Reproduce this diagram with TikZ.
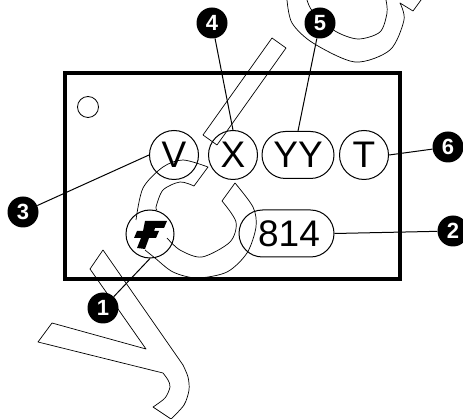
\documentclass[tikz,border=0pt]{standalone}
\usepackage{fontspec}
\setmainfont{Liberation Sans}
\usetikzlibrary{shapes.misc}
\tikzset{
  x=1pt,y=-1pt,
  wm/.style={draw=black,line width=0.7pt,line join=round},
  pin/.style={draw=black,line width=1pt,circle,inner sep=0pt,minimum size=49pt,font=\fontsize{37}{37}\selectfont},
  pill/.style={draw=black,line width=1pt,rounded rectangle,inner sep=0pt,minimum height=47pt,font=\fontsize{37}{37}\selectfont},
  badge/.style={fill=black,circle,inner sep=0pt,minimum size=31pt,text=white,font=\fontsize{22}{22}\selectfont\bfseries},
  lead/.style={draw=black,line width=1pt},
}
\begin{document}
\begin{tikzpicture}
\useasboundingbox (0,0) rectangle (463,419);
\fill[white] (0,0) rectangle (463,419);
% outlined watermark letters
\draw[wm] (272,38) -- (286,48) -- (217,145) -- (203,135) -- cycle;
\draw[wm] (103,250) -- (90,269) -- (146,349) -- (52,323) -- (38,342) -- (163,373)
  -- plot[smooth] coordinates {(163,373) (168,380) (170,387) (165,398) (153,407)}
  -- (171,419) -- plot[smooth] coordinates {(171,419) (184,405) (189,390) (188,377) (183,365)} -- cycle;
\draw[wm] plot[smooth] coordinates {(136,220) (143,188) (163,167) (183,160) (208,167)}
  -- (194,186) -- plot[smooth] coordinates {(194,186) (180,182) (163,190) (156,207) (157,210)};
\draw[wm] plot[smooth] coordinates {(145,250) (155,258) (173,272) (197,278) (227,272) (247,253) (256,227) (253,207) (235,183)}
  -- (222,201) -- plot[smooth] coordinates {(222,201) (236,222) (230,242) (202,257) (180,250) (167,238)};
\draw[wm] plot[smooth] coordinates {(287,0) (292,23) (313,43) (355,62) (390,50) (404,20) (400,3)}
  -- (413,11) -- (421,0);
\draw[wm] plot[smooth] coordinates {(307,0) (313,12) (335,31) (358,39) (380,32) (387,13) (386,0)};
% package outline
\draw[black,line width=3.5pt] (65,73) rectangle (400,279);
\node[draw=black,line width=0.8pt,circle,inner sep=0pt,minimum size=21pt] (dot) at (88,107) {};
% marking fields
\node[pin] (v) at (174,155) {V};
\node[pin] (x) at (233,155) {X};
\node[pill,minimum width=72pt] (yy) at (298,155) {YY};
\node[pin] (t) at (364,155) {T};
\node[pill,minimum width=95pt] (num) at (286.5,233.5) {\hspace{5pt}814};
\node[pin,minimum size=48pt] (logo) at (150,234) {};
\fill[black] (145,221) -- (167,221) -- (164,228) -- (155,228) -- (154,231) -- (159,231) -- (156,238)
  -- (149,238) -- (145,249) -- (137,248) -- (141,238) -- (134,238) -- (137,231) -- (143,231) -- cycle;
% callouts
\node[badge] (b1) at (103,308) {1};
\node[badge] (b2) at (453,231) {2};
\node[badge] (b3) at (23,212) {3};
\node[badge] (b4) at (212,23) {4};
\node[badge] (b5) at (320,23) {5};
\node[badge] (b6) at (448,147) {6};
\draw[lead] (b1) -- (logo.south);
\draw[lead] (b2) -- (num.east);
\draw[lead] (b3) -- (v.west);
\draw[lead] (b4) -- (x.north);
\draw[lead] (b5) -- (yy.north);
\draw[lead] (b6) -- (t.east);
\end{tikzpicture}
\end{document}
